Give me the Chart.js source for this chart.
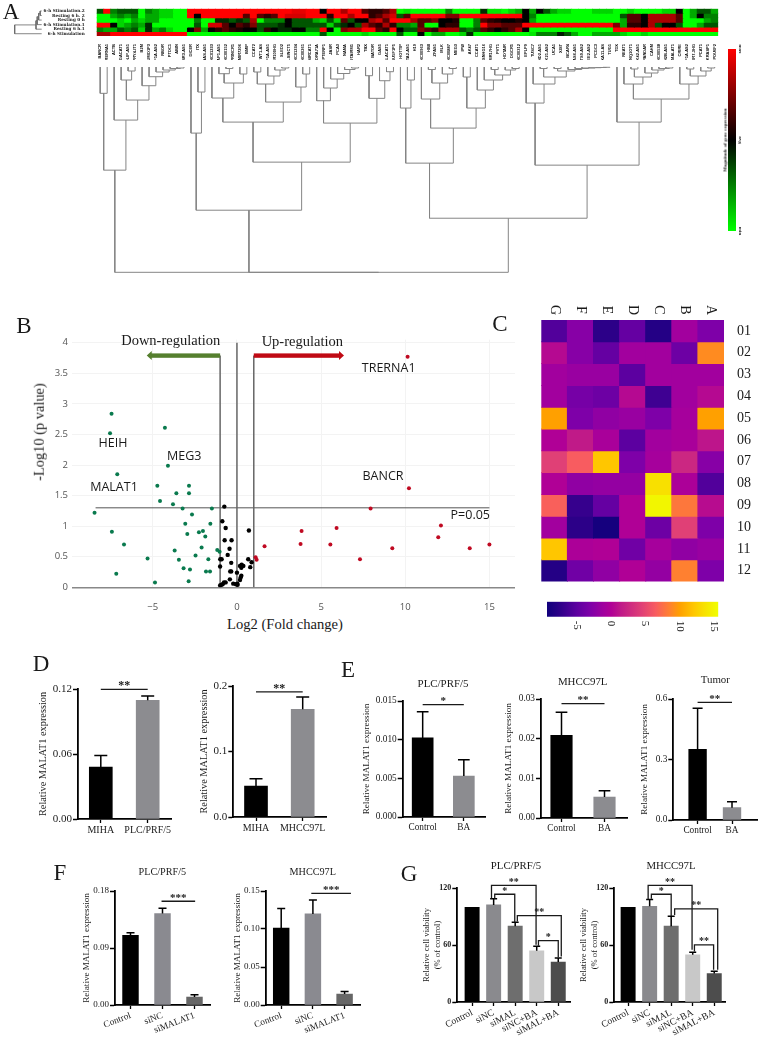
<!DOCTYPE html>
<html>
<head>
<meta charset="utf-8">
<title>MALAT1 figure</title>
<script src="https://cdn.jsdelivr.net/npm/chart.js@4"></script>
<style>
  body { margin: 0; background: #fff; }
  #page { position: relative; width: 760px; height: 1037px; overflow: hidden; background: #fff; }
  #page canvas { position: absolute; }
  .txt { position: absolute; white-space: nowrap; color: #1a1a1a; line-height: 1; }
</style>
</head>
<body>
<div id="page"></div>
<script>
// ---- A: lncRNA heatmap, -3 = full green, 0 = black, 3 = full red
var genes = ["BANCR","TRERNA1","ACTB","GACAT1","OLIP-AS1","SPRY4-IT1","B2M","SUMO1P3","HIF1A-AS2","NBOR",
  "PTOC1","ABIN","CBR3-AS1","DICER","ITX","GNAS-AS1","LINC01233","AFAP1-AS1","LINC00152","PRINCR1",
  "MIR7206","BMIP","CCAT2","WT1-AS","HIF1A-AS1","MIR100HG","SLED2","LSINCT5","LINC01234","LINC00261",
  "SIRCAT1","SNORA71A","PTENP1","JASR","PCA3","NAMA","HOTAIRM1","HAR2","TBX","BATOR",
  "GAS5","BLACAT1","POU5F1P5","HOTTIP","ACTA2-AS1","H19","LINC00963","HBII","ZFAS1","MLK",
  "LINC00887","MEG3","IPW","AK47","CCAT1","SNHG16","MIR17HG","PVT1","HOTAIR","DGCR5",
  "LINC00312","EPLP9","TUSC7","HAND2-AS1","MIR2K21-AS2","UCA1","XIST","BCAR4","GAS6-AS1","ADAMTS9-AS2",
  "WEE2-AS2","PCGC3","HOXA11-AS","TUG1","TDX","NEAT1","KCNQ1OT1","RPSK42-AS1","PANDAR","CAHM",
  "LINC00538","CDKN2B-AS1","MALAT1","CRIRE","HIF1A-AS2","MIR7-3HG","PCAT1","KRASP1","POU6F2"];
var sampleNames = ["6-h Stimulation.2","Resting 6 h. 2","Resting 0 h","6-h Stimulation.1","Resting 6 h.1","6-h Stimulation"];
var stim2 = [-1,3,-1.5,-1,-1,-1,-3,-1.5,-2,-2.5,
  -2.5,-3,-3,3,3,3,3,3,3,3,
  3,3,3,3,3,3,3,3,2.7,2.7,
  3,3,0,3,3,2,3,3,1,.5,
  .5,1,2,-3,-2.7,-3,-3,-3,-3,-3,
  -1.5,-3,-3,-3,-3,-.5,-2.7,-2.7,-3,-2.5,
  -2,0,-2,0,-1,-2,-2.5,-2.5,-3,-3,
  -3,-2.5,-2.5,-2.5,-3,-3,-2.5,-3,-3,-3,
  -3,-2.5,-2.5,0,-3,-2,-1,-1,-2];
var rest6b = [-3,-3,-2,-1.5,-2,-1.5,-3,-2,-2,-2.5,
  -2.5,-3,-3,3,0,3,3,3,3,3,
  3,1,3,1,.5,1,3,2.5,2.5,2.5,
  3,3,3,.5,3,3,2,3,3,.5,
  1,2,2.5,-1,1,3,3,3,3,3,
  1.5,1.5,3,3,3,3,3,3,3,3,
  3,0,-1.5,-3,-3,-3,-3,-3,-3,-3,
  -3,-3,-3,-3,-3,-1,1,1,0,2,
  2,2,2,1,-3,-2,0,-1.5,-1.5];
var rest0 = [-3,-3,-3,-2.5,-3,-2,-2.5,-2,-2,-3,
  -3,-3,-3,-3,-1.5,-3,-3,-.5,-.5,-1,
  -.5,-1,2,-3,-1.5,-1.5,-1.5,0,-1,-1,
  -1,-2,-2.5,-1,-2.5,1,-1,0,0,2,
  2.5,1,3,3,3,2,1,1,1.5,0,
  0,.3,-3,-3,-1.5,1,.5,.3,0,0,
  .3,0,-2,-3,-3,-3,-3,-3,-3,-3,
  -3,-3,-3,-3,-3,-2,1,1,0,2,
  2,2,2,1,-3,-3,-3,-2,-1.5];
var stim1 = [3,3,0,-2.5,-2,-1.5,-2,-.5,-3,-3,
  -3,-3,-3,-3,-1,-3,2.5,2.5,1,0,
  1,.5,1.5,-1,-1,-1,-.5,0,-1,-1,
  -1,-1,-1,-2.5,-1,-.5,0,-1,2,1,
  .5,2,.5,-1.5,-1.5,-2,1,-3,-3,0,
  .5,.5,-3,-3,-1.5,3,1.5,1.5,1,1,
  1,3,3,3,3,3,3,3,3,3,
  3,3,3,3,1.5,-2,.5,.5,0,2,
  -1,0,0,-1,-3,-3,-2,-1,-1];
var rest6a = [-1.5,-2,-2,-1,-1.5,-1,-2.5,-.5,-2,-1.5,
  -2.5,-3,-3,0,1.5,-2,0,.5,1,.5,
  .3,0,0,-1,.5,0,-.5,-.5,0,0,
  -1.5,-1.5,3,0,-3,1.5,2,2,3,3,
  1,.5,3,0,-1,-1,1.5,1,.5,2,
  2,2,-1,-1.5,-1,1,.5,0,.5,1,
  2,0,-3,-3,-3,-3,-3,-3,-3,-3,
  -3,-3,-3,-3,3,3,3,3,3,3,
  3,3,3,3,3,3,3,3,3];
var stim0 = [2,2,3,3,3,3,3,3,3,3,
  3,3,3,-3,-3,-3,-3,-3,-3,-3,
  -3,-3,-3,-3,-3,-3,-3,-3,-3,-3,
  -3,-3,-1,-3,-3,-3,-3,-3,-2.5,-3,
  -3,-3,-3,-1,-3,-3,0,-3,-2,-2,
  -3,-3,-2.5,-.5,-3,-3,-3,-3,-3,-3,
  -3,-3,-2.7,-1.5,-1.5,-1.5,-.3,-1,-2,-3,
  -3,-2,-2,-2,-2,-2.5,-3,-3,-2.5,-3,
  -3,-3,-3,-3,-3,-3,-3,-3,-3];
var heatARows = [stim2, rest6b, rest0, stim1, rest6a, stim0];
// dendrograms as nested [height, left, right], leaves are column / row numbers
var geneTreeLeft = [103, [26.3,0,1], [53, 2, [33, [13,3,[4,4,5]], [18.7,6,[9.7,7,[5,8,[3,9,[1.5,10,[1,11,12]]]]]]]]];
var geneTreeMid = [143, [66,13,[25,14,15]],
  [95, [55, [31,16,[16,[6.7,17,[1.5,18,19]],[7,20,21]]],
           [35, [17,[5,22,23],[9,24,[3,25,[1,26,27]]]], [20,28,[7,29,30]]]],
       [56, [33.7,31,[21,32,[12,33,[6.5,34,[2.5,35,[1,36,37]]]]]],
            [31.3,[8.7,38,39],[13.7,40,[4.7,41,42]]]]]];
var geneTreeRight = [151,
  [96, [41,43,[13,44,45]],
       [61, [32,46,[16,[2.5,47,48],[7,49,[1.5,50,51]]]],
            [41,[10,52,53],[23,54,[13,55,[8,[2.5,56,57],[3,58,[1.5,59,60]]]]]]]],
  [98, [36,61,[17,62,[10,[1.5,63,64],[4,[1.5,65,66],[2.5,67,[1.5,68,[1,69,[.7,70,[.5,71,[.3,72,73]]]]]]]]]],
       [55,74,[32,[17,75,[10,[2,76,77],[6,78,[3,79,[1.5,80,[1,81,82]]]]]],
                  [17,83,[9,[2,84,85],[4,86,[1,87,88]]]]]]]];
var geneTree = [205, geneTreeLeft, [205, geneTreeMid, geneTreeRight]];
var sampleTree = [27, [5.7,[4.5,[3,[1.5,0,1],2],3],4], 5];

// ---- B: volcano plot
var downGenes = [[-7.45,2.84],[-7.54,2.52],[-4.28,2.61],[-4.10,1.99],[-7.11,1.85],[-4.73,1.66],[-2.85,1.66],[-3.60,1.54],
  [-2.85,1.54],[-4.57,1.41],[-3.80,1.36],[-3.23,1.29],[-1.49,1.29],[-8.46,1.22],[-2.67,1.19],[-3.07,1.04],[-1.58,1.04],
  [-7.43,.91],[-2.95,.87],[-2.26,.90],[-2.02,.92],[-1.88,.83],[-6.71,.70],[-2.10,.65],[-3.70,.60],[-1.17,.61],[-1.03,.58],
  [-2.46,.52],[-5.31,.47],[-3.45,.45],[-1.70,.46],[-3.17,.31],[-2.79,.29],[-1.84,.26],[-1.60,.26],[-7.17,.22],[-2.87,.10],[-4.87,.08]];
var flatGenes = [[-.75,1.32],[-.87,1.08],[-.67,.97],[.71,.93],[-.73,.77],[-.32,.77],[-.44,.63],[-.55,.53],[-.91,.46],[-.99,.46],
  [.67,.46],[.87,.41],[-.34,.40],[.28,.37],[.18,.35],[.38,.35],[-1,.34],[.26,.32],[.79,.33],[-.40,.26],[-.34,.26],[0,.24],
  [.26,.19],[.22,.16],[-.42,.13],[.18,.12],[-.77,.08],[-.67,.08],[-.85,.05],[-1,.03],[-.93,.04],[-.22,.06],[-.06,.05],[.04,.04],[.02,.06]];
var upGenes = [[10.14,3.77],[10.22,1.62],[7.94,1.29],[12.12,1.01],[11.96,.82],[5.92,.97],[3.84,.92],[3.78,.71],[5.55,.70],
  [1.64,.67],[9.23,.64],[13.83,.64],[15.0,.70],[7.31,.46],[1.11,.49],[1.17,.45]];
var volcanoXTicks = [-5,0,5,10,15];
var volcanoYTicks = ["0","0.5","1","1.5","2","2.5","3","3.5","4"];
var pCutoff = 1.3;
var foldCutoff = 1;
var arrowLevel = 3.79;
var downArrowEnd = -5.36;
var upArrowEnd = 6.36;

// ---- C: expression heatmap
var heatCCols = ["G","F","E","D","C","B","A"];
var heatCRowNames = ["01","02","03","04","05","06","07","08","09","10","11","12"];
var heatC01 = [-5.5,-2.5,-7.5,-4.5,-8,-1,-3];
var heatC02 = [.5,-2.5,-4.5,-1,-1,-4,9];
var heatC03 = [-1,-1.5,-1.5,-5,-1,-1,-1];
var heatC04 = [-1,-3.5,-4,.5,-6.5,-1,.5];
var heatC05 = [10,-3,-2,-1.5,-3,-.7,10];
var heatC06 = [0,1.5,-.5,-5,-1,-.5,1.2];
var heatC07 = [4.5,6.5,12,-3,-.7,2.5,-2.5];
var heatC08 = [0,-2,-1.8,-1.8,13.5,-.3,-5.5];
var heatC09 = [6.7,-7,-4.5,0,15,8,.7];
var heatC10 = [-1,-7.5,-9,0,-4,4.5,-3];
var heatC11 = [12,-.3,0,-3.8,-.7,-2,-1.5];
var heatC12 = [-8,-3.8,-2,0,-1.8,8.5,-3];
var heatCRows = [heatC01,heatC02,heatC03,heatC04,heatC05,heatC06,heatC07,heatC08,heatC09,heatC10,heatC11,heatC12];
var heatCStopValues = [-9.3,-7.5,-5,-3,-1,0,1.5,4.5,6.5,8.5,10,12,13.5,15.6];
var heatCStopColors = ["#10007c","#2c0088","#5c00a0","#7e00a8","#a2009e","#b00096","#c01a88","#e04076","#f85c60","#ff8030","#ffa000","#ffc600","#f8e000","#f0ff00"];
var heatCBarTicks = [-5,0,5,10,15];

// ---- D to G: bars, error tops and significance brackets [from, to, top, left foot, right foot, stars]
var d1Names = ["MIHA","PLC/PRF/5"];      var d1Values = [.0479,.1096];  var d1Errors = [.0586,.1136];
var d1Ticks = ["0.00","0.06","0.12"];    var d1Marks = [[0,1,.1197,.1197,.1197,"**"]];
var d2Names = ["MIHA","MHCC97L"];        var d2Values = [.0473,.1644];  var d2Errors = [.0585,.1832];
var d2Ticks = ["0.0","0.1","0.2"];       var d2Marks = [[0,1,.191,.191,.191,"**"]];

var e1Names = ["Control","BA"];          var e1Values = [.01023,.00529]; var e1Errors = [.01362,.00739];
var e1Ticks = ["0.000","0.005","0.010","0.015"]; var e1Marks = [[0,1,.01453,.01453,.01453,"*"]];
var e2Names = ["Control","BA"];          var e2Values = [.02087,.00528]; var e2Errors = [.02665,.00687];
var e2Ticks = ["0.00","0.01","0.02","0.03"];     var e2Marks = [[0,1,.02883,.02883,.02883,"**"]];
var e3Names = ["Control","BA"];          var e3Values = [.351,.061];     var e3Errors = [.5538,.0907];
var e3Ticks = ["0.0","0.3","0.6"];       var e3Marks = [[0,1,.5835,.5835,.5835,"**"]];

var f1Names = ["Control","siNC","siMALAT1"]; var f1Values = [.1099,.1444,.01256]; var f1Errors = [.1141,.1528,.0162];
var f1Ticks = ["0.00","0.09","0.18"];    var f1Marks = [[.97,2.02,.1638,.1638,.1638,"***"]];
var f2Names = ["Control","siNC","siMALAT1"]; var f2Values = [.1012,.1199,.0144];  var f2Errors = [.1269,.1382,.0179];
var f2Ticks = ["0.00","0.05","0.10","0.15"]; var f2Marks = [[.95,2.2,.1469,.1469,.1469,"***"]];

var gNames = ["Control","siNC","siMAL","siNC+BA","siMAL+BA"];
var g1Values = [99.7,102.2,79.8,53.9,42];  var g1Errors = [null,108.8,84,58.8,46.2];
var g2Values = [99.7,100.8,79.8,49.7,30];  var g2Errors = [null,107.8,90.3,52.5,32.5];
var gTicks = ["0","60","120"];
var g1Marks = [[.9,2.97,122.8,109,60.2,"**"],[1.05,1.98,113.4,109,84,"*"],[2.1,4.14,91,84.7,47.9,"**"],[3.08,4,64.7,59.1,47.2,"*"]];
var g2Marks = [[.93,2.97,122.8,107.8,54.9,"**"],[1.08,2,113.4,108.8,90.6,"*"],[2.16,4.16,98,91.7,33.9,"**"],[3.08,3.97,60.2,53.2,33.9,"**"]];

var serif = "'Liberation Serif', serif";
var ink = "#1a1a1a";
var page = document.getElementById("page");
Chart.defaults.animation = false;
Chart.defaults.responsive = false;
Chart.defaults.devicePixelRatio = 1;
Chart.defaults.plugins.legend.display = false;
Chart.defaults.plugins.tooltip.enabled = false;

function put(text, x, y, size, opts) {
  opts = opts || {};
  var d = document.createElement("div");
  d.className = "txt";
  d.textContent = text;
  d.style.left = x + "px";
  d.style.top = y + "px";
  d.style.fontSize = size + "px";
  d.style.fontFamily = opts.family || serif;
  if (opts.weight) d.style.fontWeight = opts.weight;
  d.style.transform = "translate(-50%,-50%) rotate(" + (opts.rot || 0) + "deg)";
  page.appendChild(d);
}

// canvas in page pixels; plot area pinned with layout padding + afterFit
function place(box, plot, ySide, xSide) {
  ySide = ySide || "left";
  xSide = xSide || "bottom";
  var c = document.createElement("canvas");
  c.width = box.w;
  c.height = box.h;
  c.style.left = box.x + "px";
  c.style.top = box.y + "px";
  page.appendChild(c);
  var L = plot.l - box.x, R = box.x + box.w - plot.r, T = plot.t - box.y, B = box.y + box.h - plot.b;
  return {
    canvas: c,
    layout: {
      autoPadding: false,
      padding: {
        left: ySide === "left" ? 0 : L,
        right: ySide === "right" ? 0 : R,
        top: xSide === "top" ? 0 : T,
        bottom: xSide === "bottom" ? 0 : B
      }
    },
    yFit: function (s) { s.width = ySide === "left" ? L : R; },
    xFit: function (s) { s.height = xSide === "bottom" ? B : T; }
  };
}

var bare = { border: { display: false }, grid: { display: false }, ticks: { display: false } };

function mix(a, b, t) {
  var pa = parseInt(a.slice(1), 16), pb = parseInt(b.slice(1), 16), out = [];
  [16, 8, 0].forEach(function (s) {
    var ca = (pa >> s) & 255, cb = (pb >> s) & 255;
    out.push(Math.round(ca + (cb - ca) * t));
  });
  return "rgb(" + out.join(",") + ")";
}
function greenRed(v) {
  var m = Math.round(255 * Math.abs(v) / 3);
  return v < 0 ? "rgb(0," + m + ",0)" : "rgb(" + m + ",0,0)";
}
function plasmaLike(v) {
  for (var i = 1; i < heatCStopValues.length; i++) {
    if (v <= heatCStopValues[i]) {
      var t = (v - heatCStopValues[i - 1]) / (heatCStopValues[i] - heatCStopValues[i - 1]);
      return mix(heatCStopColors[i - 1], heatCStopColors[i], Math.max(0, t));
    }
  }
  return heatCStopColors[heatCStopColors.length - 1];
}

// labels turned by a fixed angle, taken from the scale's own ticks
function turnedTicks(axis, angle, off, font, align) {
  return {
    id: "turnedTicks" + axis,
    afterDraw: function (chart) {
      var s = chart.scales[axis], a = chart.chartArea, ctx = chart.ctx;
      ctx.save();
      ctx.font = font;
      ctx.fillStyle = ink;
      ctx.textAlign = align || "center";
      ctx.textBaseline = "middle";
      s.ticks.forEach(function (t, i) {
        var x = axis === "x" ? s.getPixelForTick(i) : a.right + off;
        var y = axis === "x" ? (off < 0 ? a.top + off : a.bottom + off) : s.getPixelForTick(i);
        ctx.save();
        ctx.translate(x, y);
        ctx.rotate(angle * Math.PI / 180);
        ctx.fillText(t.label, 0, 0);
        ctx.restore();
      });
      ctx.restore();
    }
  };
}

function heatmap(box, plot, ySide, xSide, cols, rows, rowNames, colorOf, xTicks, yTicks, plugins) {
  var p = place(box, plot, ySide, xSide);
  new Chart(p.canvas, {
    type: "bar",
    data: {
      labels: cols,
      datasets: rows.map(function (row, r) {
        return {
          data: row.map(function () { return [r, r + 1]; }),
          backgroundColor: row.map(colorOf),
          grouped: false,
          barPercentage: 1,
          categoryPercentage: 1,
          inflateAmount: 0.5
        };
      })
    },
    plugins: plugins || [],
    options: {
      layout: p.layout,
      scales: {
        x: Object.assign({ position: xSide, border: { display: false }, grid: { display: false }, afterFit: p.xFit }, { ticks: xTicks }),
        y: {
          position: ySide, min: 0, max: rows.length, reverse: true,
          border: { display: false }, grid: { display: false },
          afterFit: p.yFit,
          afterBuildTicks: function (s) { s.ticks = rowNames.map(function (n, i) { return { value: i + 0.5 }; }); },
          ticks: Object.assign({ autoSkip: false, color: ink, callback: function (v, i) { return rowNames[i]; } }, yTicks)
        }
      }
    }
  });
}

function flatten(node, pts) {
  if (typeof node === "number") return { pos: node, h: 0 };
  var A = flatten(node[1], pts), B = flatten(node[2], pts), h = node[0];
  pts.push({ pos: A.pos, h: A.h }, { pos: A.pos, h: h }, { pos: B.pos, h: h }, { pos: B.pos, h: B.h }, null);
  return { pos: (A.pos + B.pos) / 2, h: h };
}

function dendrogram(box, plot, tree, across, xScale, yScale, color, width) {
  var p = place(box, plot), pts = [];
  flatten(tree, pts);
  new Chart(p.canvas, {
    type: "scatter",
    data: {
      datasets: [{
        data: pts.map(function (q) {
          if (!q) return { x: NaN, y: NaN };
          return across ? { x: q.pos, y: q.h } : { x: q.h, y: q.pos };
        }),
        showLine: true, spanGaps: false, pointRadius: 0, borderWidth: width, borderColor: color, clip: false
      }]
    },
    options: {
      layout: p.layout,
      scales: {
        x: Object.assign({ afterFit: p.xFit }, bare, xScale),
        y: Object.assign({ afterFit: p.yFit }, bare, yScale)
      }
    }
  });
}

function errorBars(errors, capW) {
  return {
    id: "errorBars",
    afterDatasetsDraw: function (chart) {
      var ctx = chart.ctx, xs = chart.scales.x, ys = chart.scales.y, vals = chart.data.datasets[0].data;
      ctx.save();
      ctx.strokeStyle = "#000";
      ctx.lineWidth = 1.5;
      errors.forEach(function (e, i) {
        if (e === null) return;
        var x = xs.getPixelForValue(i), top = ys.getPixelForValue(e), base = ys.getPixelForValue(vals[i].y);
        ctx.beginPath();
        ctx.moveTo(x, base);
        ctx.lineTo(x, top);
        ctx.moveTo(x - capW / 2, top);
        ctx.lineTo(x + capW / 2, top);
        ctx.stroke();
      });
      ctx.restore();
    }
  };
}

function brackets(marks, starSize) {
  return {
    id: "brackets",
    afterDraw: function (chart) {
      var ctx = chart.ctx, xs = chart.scales.x, ys = chart.scales.y;
      ctx.save();
      ctx.strokeStyle = ink;
      ctx.lineWidth = 1.3;
      ctx.fillStyle = ink;
      ctx.font = "bold " + starSize + "px " + serif;
      ctx.textAlign = "center";
      ctx.textBaseline = "middle";
      marks.forEach(function (m) {
        var x1 = xs.getPixelForValue(m[0]), x2 = xs.getPixelForValue(m[1]), y = ys.getPixelForValue(m[2]);
        ctx.beginPath();
        ctx.moveTo(x1, ys.getPixelForValue(m[3]));
        ctx.lineTo(x1, y);
        ctx.lineTo(x2, y);
        ctx.lineTo(x2, ys.getPixelForValue(m[4]));
        ctx.stroke();
        ctx.fillText(m[5], (x1 + x2) / 2, y - 3);
      });
      ctx.restore();
    }
  };
}

function barPanel(cfg) {
  var lineH = cfg.titleSize * 1.2;
  var box = { x: Math.round(cfg.titleX - lineH / 2), y: cfg.top - 16, h: cfg.base - cfg.top + 16 + (cfg.rot ? 56 : 26) };
  box.w = cfg.right + 14 - box.x;
  var plot = { l: cfg.left, r: cfg.right, t: cfg.top, b: cfg.base };
  var p = place(box, plot);
  var tickNums = cfg.ticks.map(parseFloat);
  new Chart(p.canvas, {
    type: "bar",
    data: {
      datasets: [{
        data: cfg.values.map(function (v, i) { return { x: i, y: v }; }),
        backgroundColor: cfg.colors,
        barThickness: cfg.barW
      }]
    },
    plugins: [errorBars(cfg.errors, cfg.capW), brackets(cfg.marks, cfg.starSize)],
    options: {
      layout: p.layout,
      scales: {
        x: {
          type: "linear", offset: false,
          min: -cfg.gap / cfg.step,
          max: (cfg.right - cfg.left - cfg.gap) / cfg.step,
          afterFit: p.xFit,
          afterBuildTicks: function (s) { s.ticks = cfg.names.map(function (nm, i) { return { value: i }; }); },
          border: { color: "#000", width: 1.8 },
          grid: { offset: false, drawOnChartArea: false, tickLength: 4, tickColor: "#000", tickWidth: 1.3 },
          ticks: {
            autoSkip: false, padding: 1, color: ink, minRotation: cfg.rot || 0, maxRotation: cfg.rot || 0,
            font: { family: serif, size: cfg.xSize },
            callback: function (v) { return cfg.names[v]; }
          }
        },
        y: {
          min: 0, max: tickNums[tickNums.length - 1],
          afterFit: p.yFit,
          afterBuildTicks: function (s) { s.ticks = tickNums.map(function (v) { return { value: v }; }); },
          border: { color: "#000", width: 1.8 },
          grid: { drawOnChartArea: false, tickLength: 5, tickColor: "#000", tickWidth: 1.5 },
          title: { display: true, text: cfg.yTitle, color: ink, padding: 0, font: { family: serif, size: cfg.titleSize, lineHeight: 1.2 } },
          ticks: {
            autoSkip: false, padding: 1, color: ink,
            font: { family: serif, size: cfg.ySize, weight: cfg.yWeight || "normal" },
            callback: function (v, i) { return cfg.ticks[i]; }
          }
        }
      }
    }
  });
}

// ---- panel A
var aLeft = 96.7, aRight = 718.2;
heatmap({ x: 0, y: 0, w: 725, h: 60 }, { l: aLeft, r: aRight, t: 8.7, b: 36 }, "left", "bottom",
  genes, heatARows, sampleNames, greenRed,
  { autoSkip: false, minRotation: 90, maxRotation: 90, padding: 0, color: "#000", font: { family: "'Liberation Sans'", size: 4, weight: "bold" } },
  { padding: 4, font: { family: "'DejaVu Serif'", size: 4.2, weight: "bold" } });
dendrogram({ x: 90, y: 60, w: 640, h: 220 }, { l: aLeft, r: aRight, t: 67, b: 272.3 }, geneTree, true,
  { min: -0.5, max: 88.5 }, { min: 0, max: 205, reverse: true }, "#858585", 1);
dendrogram({ x: 10, y: 4, w: 36, h: 36 }, { l: 14.7, r: 41.7, t: 8.7, b: 36 }, sampleTree, false,
  { min: 0, max: 27, reverse: true }, { min: -0.5, max: 5.5, reverse: true }, "#666", 0.8);
(function () {
  var p = place({ x: 720, y: 44, w: 36, h: 192 }, { l: 728, r: 736, t: 49, b: 231 }, "right");
  new Chart(p.canvas, {
    type: "bar",
    data: {
      labels: [""],
      datasets: [{
        data: [[-1, 1]], barPercentage: 1, categoryPercentage: 1,
        backgroundColor: function (c) {
          var a = c.chart.chartArea;
          if (!a) return "#000";
          var g = c.chart.ctx.createLinearGradient(0, a.bottom, 0, a.top);
          g.addColorStop(0, "#00ff00");
          g.addColorStop(0.5, "#000000");
          g.addColorStop(1, "#ff0000");
          return g;
        }
      }]
    },
    plugins: [turnedTicks("y", 90, 4, "bold 5px " + serif)],
    options: {
      layout: p.layout,
      scales: {
        x: Object.assign({ afterFit: p.xFit }, bare),
        y: Object.assign({ position: "right", min: -1, max: 1, afterFit: p.yFit,
          afterBuildTicks: function (s) { s.ticks = [{ value: -1 }, { value: 0 }, { value: 1 }]; } }, bare,
          { ticks: { display: false, callback: function (v) { return v > 0 ? "max" : v < 0 ? "min" : "avg"; } } })
      }
    }
  });
})();
put("Magnitude of gene expression", 725, 140, 5, { rot: -90, weight: "bold" });

// ---- panel B
(function () {
  var p = place({ x: 30, y: 330, w: 495, h: 285 }, { l: 72, r: 515, t: 335.9, b: 587.3 });
  var cloud = function (list) { return list.map(function (q) { return { x: q[0], y: q[1] }; }); };
  var guide = { showLine: true, pointRadius: 0, borderWidth: 1.5, borderColor: "#666" };
  var arrows = {
    id: "arrows",
    afterDatasetsDraw: function (chart) {
      var ctx = chart.ctx, xs = chart.scales.x, ys = chart.scales.y, y = ys.getPixelForValue(arrowLevel);
      [[-foldCutoff, downArrowEnd, "#557f2e"], [foldCutoff, upArrowEnd, "#c00a14"]].forEach(function (a) {
        var x1 = xs.getPixelForValue(a[0]), x2 = xs.getPixelForValue(a[1]), dir = x2 > x1 ? 1 : -1;
        ctx.save();
        ctx.fillStyle = a[2];
        ctx.fillRect(Math.min(x1, x2 - dir * 4), y - 2.2, Math.abs(x2 - dir * 4 - x1), 4.4);
        ctx.beginPath();
        ctx.moveTo(x2, y);
        ctx.lineTo(x2 - dir * 5, y - 4.5);
        ctx.lineTo(x2 - dir * 5, y + 4.5);
        ctx.fill();
        ctx.restore();
      });
    }
  };
  new Chart(p.canvas, {
    type: "scatter",
    data: {
      datasets: [
        { data: cloud(upGenes), pointRadius: 2, backgroundColor: "#c00a22", borderWidth: 0 },
        { data: cloud(downGenes), pointRadius: 2, backgroundColor: "#0a7a4e", borderWidth: 0 },
        { data: cloud(flatGenes), pointRadius: 2.2, backgroundColor: "#000", borderWidth: 0 },
        Object.assign({ data: [{ x: -foldCutoff, y: 0 }, { x: -foldCutoff, y: arrowLevel }] }, guide),
        Object.assign({ data: [{ x: foldCutoff, y: 0 }, { x: foldCutoff, y: arrowLevel }] }, guide),
        Object.assign({ data: [{ x: 0, y: 0 }, { x: 0, y: 4 }] }, guide),
        Object.assign({ data: [{ x: -8.4, y: pCutoff }, { x: 15, y: pCutoff }] }, guide, { borderWidth: 1, borderColor: "#555" })
      ]
    },
    plugins: [arrows],
    options: {
      layout: p.layout,
      scales: {
        x: {
          type: "linear", min: -9.8, max: 16.52, afterFit: p.xFit,
          afterBuildTicks: function (s) { s.ticks = volcanoXTicks.map(function (v) { return { value: v }; }); },
          border: { display: false },
          grid: { color: "#f3f3f3", drawTicks: false },
          ticks: { autoSkip: false, padding: 14, color: "#555", font: { family: "'Open Sans'", size: 9.5 }, maxRotation: 0,
            callback: function (v) { return v < 0 ? "\u2212" + (-v) : v; } }
        },
        y: {
          min: 0, max: 4.05, afterFit: p.yFit,
          afterBuildTicks: function (s) { s.ticks = volcanoYTicks.map(function (v) { return { value: parseFloat(v) }; }); },
          border: { display: false },
          grid: {
            drawTicks: false,
            color: function (c) { return c.tick && c.tick.value === 0 ? "#888" : "#f3f3f3"; },
            lineWidth: function (c) { return c.tick && c.tick.value === 0 ? 1.5 : 1; }
          },
          ticks: { autoSkip: false, padding: 4, color: "#555", font: { family: "'Open Sans'", size: 9.5 },
            callback: function (v, i) { return volcanoYTicks[i]; } }
        }
      }
    }
  });
})();
put("Down-regulation", 170.7, 340, 14.5);
put("Up-regulation", 302.3, 340.7, 14.5);
put("TRERNA1", 388.7, 367.7, 12.5, { family: "'Open Sans'" });
put("BANCR", 383, 475.7, 12.5, { family: "'Open Sans'" });
put("HEIH", 113, 443, 12.5, { family: "'Open Sans'" });
put("MEG3", 184.3, 455.7, 12.5, { family: "'Open Sans'" });
put("MALAT1", 114, 487, 12.5, { family: "'Open Sans'" });
put("P=0.05", 470.3, 515, 12.5, { family: "'Open Sans'" });
put("Log2 (Fold change)", 285, 624, 14.6);
put("-Log10 (p value)", 39, 432, 14.4, { rot: -90 });

// ---- panel C
heatmap({ x: 530, y: 300, w: 230, h: 295 }, { l: 541.3, r: 724, t: 320, b: 590.7 }, "right", "top",
  heatCCols, heatCRows, heatCRowNames, plasmaLike,
  { display: false },
  { padding: 5, font: { family: serif, size: 14 } },
  [turnedTicks("x", 90, -10, "14px " + serif)]);
(function () {
  var p = place({ x: 540, y: 596, w: 190, h: 40 }, { l: 547, r: 718.3, t: 601.7, b: 616.7 });
  var lo = heatCStopValues[0], hi = heatCStopValues[heatCStopValues.length - 1];
  new Chart(p.canvas, {
    type: "bar",
    data: {
      labels: [""],
      datasets: [{
        data: [[lo, hi]], barPercentage: 1, categoryPercentage: 1,
        backgroundColor: function (c) {
          var a = c.chart.chartArea;
          if (!a) return "#000";
          var g = c.chart.ctx.createLinearGradient(a.left, 0, a.right, 0);
          heatCStopValues.forEach(function (v, i) { g.addColorStop((v - lo) / (hi - lo), heatCStopColors[i]); });
          return g;
        }
      }]
    },
    plugins: [turnedTicks("x", 90, 4, "11px " + serif, "left")],
    options: {
      indexAxis: "y",
      layout: p.layout,
      scales: {
        x: Object.assign({ type: "linear", min: lo, max: hi, afterFit: p.xFit,
          afterBuildTicks: function (s) { s.ticks = heatCBarTicks.map(function (v) { return { value: v }; }); } }, bare),
        y: Object.assign({ afterFit: p.yFit }, bare)
      }
    }
  });
})();

// ---- panel D
var relExpr = "Relative MALAT1 expression";
var blackGrey = ["#000", "#8c8c90"];
barPanel({ names: d1Names, values: d1Values, errors: d1Errors, ticks: d1Ticks, marks: d1Marks, colors: blackGrey,
  left: 78, right: 171, top: 689, base: 819.3, gap: 22.8, step: 46.9, barW: 23, capW: 13, starSize: 12,
  titleX: 43, titleSize: 10.3, yTitle: relExpr, xSize: 10, ySize: 11 });
barPanel({ names: d2Names, values: d2Values, errors: d2Errors, ticks: d2Ticks, marks: d2Marks, colors: blackGrey,
  left: 233.3, right: 326, top: 685.7, base: 816.7, gap: 22.7, step: 46.7, barW: 23, capW: 13, starSize: 12,
  titleX: 204, titleSize: 10.3, yTitle: relExpr, xSize: 10, ySize: 11 });

// ---- panel E
barPanel({ names: e1Names, values: e1Values, errors: e1Errors, ticks: e1Ticks, marks: e1Marks, colors: blackGrey,
  left: 402.7, right: 485.5, top: 701.3, base: 817.7, gap: 20.1, step: 41.4, barW: 21, capW: 11.7, starSize: 11,
  titleX: 367, titleSize: 9.2, yTitle: relExpr, xSize: 9.3, ySize: 9.3 });
barPanel({ names: e2Names, values: e2Values, errors: e2Errors, ticks: e2Ticks, marks: e2Marks, colors: blackGrey,
  left: 541, right: 627, top: 699, base: 818.3, gap: 20.5, step: 43, barW: 21.5, capW: 11.7, starSize: 11,
  titleX: 509, titleSize: 9.2, yTitle: relExpr, xSize: 9.3, ySize: 9.3 });
barPanel({ names: e3Names, values: e3Values, errors: e3Errors, ticks: e3Ticks, marks: e3Marks, colors: blackGrey,
  left: 673.3, right: 757.7, top: 698.7, base: 820, gap: 24.5, step: 34.7, barW: 17.7, capW: 10, starSize: 11,
  titleX: 645, titleSize: 9.2, yTitle: relExpr, xSize: 9.3, ySize: 9.3 });
put("PLC/PRF/5", 443, 683, 10.9);
put("MHCC97L", 582.7, 681, 10.9);
put("Tumor", 715.3, 679, 10.9);

// ---- panel F
var threeBars = ["#000", "#8a8a90", "#666"];
barPanel({ names: f1Names, values: f1Values, errors: f1Errors, ticks: f1Ticks, marks: f1Marks, colors: threeBars,
  left: 115, right: 210, top: 891.3, base: 1006, gap: 15.5, step: 32, barW: 15.8, capW: 8, starSize: 11, rot: 21,
  titleX: 86, titleSize: 9.1, yTitle: relExpr, xSize: 9.3, ySize: 9 });
barPanel({ names: f2Names, values: f2Values, errors: f2Errors, ticks: f2Ticks, marks: f2Marks, colors: threeBars,
  left: 265.7, right: 360, top: 891.3, base: 1006, gap: 15.5, step: 31.7, barW: 15.8, capW: 8, starSize: 11, rot: 21,
  titleX: 237, titleSize: 9.1, yTitle: relExpr, xSize: 9.3, ySize: 9 });
put("PLC/PRF/5", 162.3, 872, 10.2);
put("MHCC97L", 312.7, 872, 10.2);

// ---- panel G
var fiveBars = ["#000", "#8a8a8e", "#6e6e6e", "#c8c8c8", "#4d4d4d"];
var viability = ["Relative cell viability", "(% of control)"];
barPanel({ names: gNames, values: g1Values, errors: g1Errors, ticks: gTicks, marks: g1Marks, colors: fiveBars,
  left: 457.3, right: 570.7, top: 888, base: 1002.3, gap: 14.9, step: 21.67, barW: 14.3, capW: 7, starSize: 10, rot: 27,
  titleX: 427.3, titleSize: 8.6, yTitle: viability, xSize: 9.6, ySize: 8, yWeight: "bold" });
barPanel({ names: gNames, values: g2Values, errors: g2Errors, ticks: gTicks, marks: g2Marks, colors: fiveBars,
  left: 614.3, right: 725.7, top: 888, base: 1002.3, gap: 13.9, step: 21.67, barW: 14.3, capW: 7, starSize: 10, rot: 27,
  titleX: 584.3, titleSize: 8.6, yTitle: viability, xSize: 9.6, ySize: 8, yWeight: "bold" });
put("PLC/PRF/5", 516, 865, 10.8);
put("MHCC97L", 671, 865, 10.8);

// ---- panel letters
put("A", 11, 11, 23);
put("B", 24, 325, 23);
put("C", 500, 323, 23);
put("D", 41, 663, 23);
put("E", 348, 669, 23);
put("F", 60, 872, 23);
put("G", 409, 873, 23);
</script>
</body>
</html>
